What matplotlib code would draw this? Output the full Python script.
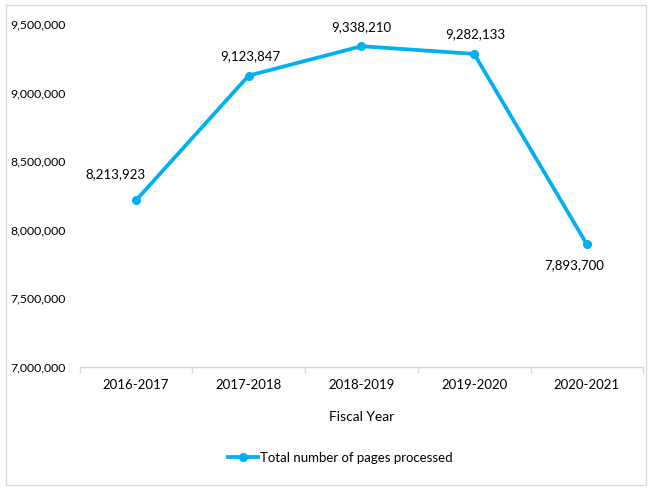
import matplotlib.pyplot as plt
from matplotlib.patches import Rectangle
from matplotlib.ticker import FuncFormatter

# chart data
years = ['2016-2017', '2017-2018', '2018-2019', '2019-2020', '2020-2021']
pages = [8213923, 9123847, 9338210, 9282133, 7893700]

plt.rcParams['font.family'] = ['Lato', 'DejaVu Sans']

fig = plt.figure(figsize=(6.54, 4.93), dpi=100)
ax = fig.add_axes([0.1216, 0.2556, 0.862, 0.6957])

# outer border of the chart area
fig.patches.append(Rectangle((6 / 654, 8 / 493), 640 / 654, 480 / 493,
                             transform=fig.transFigure, fill=False,
                             edgecolor='#d9d9d9', linewidth=1))

x = list(range(len(years)))
line, = ax.plot(x, pages, color='#00b0f0', linewidth=2.7, marker='o',
                markersize=5.5, label='Total number of pages processed')

# data labels (offsets in points)
offsets = [(-15, 19), (1, 14), (0, 14), (1, 14), (-9, -15)]
for xi, v, off in zip(x, pages, offsets):
    ax.annotate(f'{v:,}', (xi, v), xytext=off, textcoords='offset points',
                ha='center', va='center', fontsize=9.5, color='#000000')

ax.set_xlim(-0.5, len(years) - 0.5)
ax.set_ylim(7000000, 9500000)
ax.set_yticks(range(7000000, 9500001, 500000))
ax.yaxis.set_major_formatter(FuncFormatter(lambda v, p: f'{int(v):,}'))
ax.set_xticks(x)
ax.set_xticklabels(years)
ax.set_xticks([i - 0.5 for i in range(len(years) + 1)], minor=True)

for s in ['top', 'right', 'left']:
    ax.spines[s].set_visible(False)
ax.spines['bottom'].set_color('#d9d9d9')
ax.spines['bottom'].set_linewidth(1)

ax.tick_params(axis='y', length=0, pad=10, labelsize=8.8)
ax.tick_params(axis='x', which='major', length=0, pad=9, labelsize=9.5)
ax.tick_params(axis='x', which='minor', length=4, color='#d9d9d9', width=1)

ax.set_xlabel('Fiscal Year', fontsize=10, labelpad=14)

leg = fig.legend(handles=[line], loc='center', bbox_to_anchor=(0.52, 0.071),
                 frameon=False, fontsize=9.5, handlelength=2.3,
                 handletextpad=0.1)

fig.savefig('out.png', dpi=100)
